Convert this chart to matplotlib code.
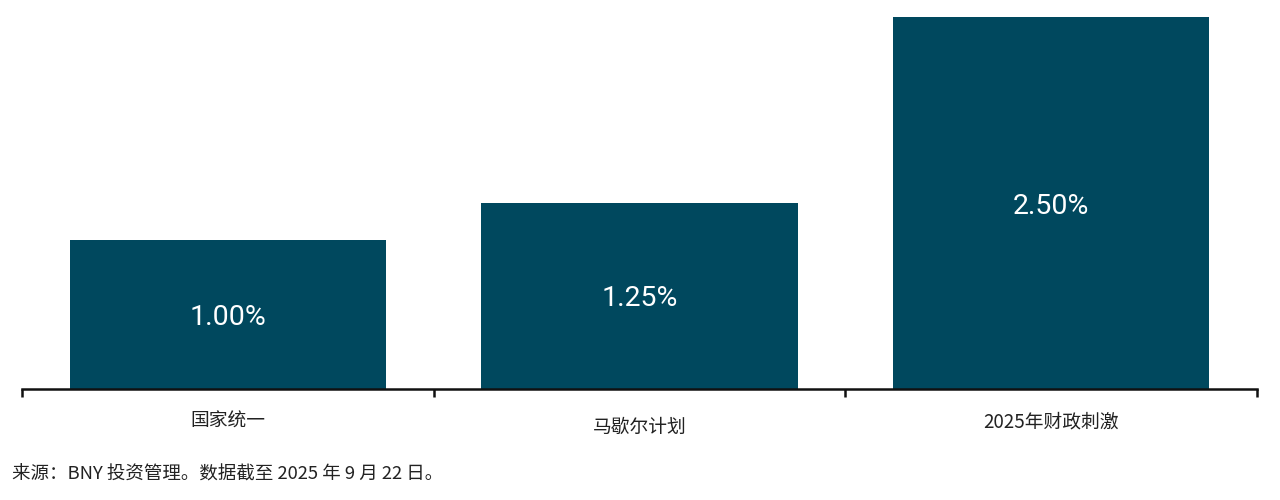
import matplotlib
matplotlib.use("Agg")
import matplotlib.pyplot as plt
import matplotlib.transforms as mtransforms

# data
categories = ['国家统一', '马歇尔计划', '2025年财政刺激']
values = [1.00, 1.25, 2.50]
value_labels = ['1.00%', '1.25%', '2.50%']
source_note = '来源：BNY 投资管理。数据截至 2025 年 9 月 22 日。'

bar_color = '#00485e'
cjk = ['Noto Sans CJK SC', 'DejaVu Sans']

fig = plt.figure(figsize=(12.8, 5), dpi=100)
ax = fig.add_axes([22 / 1280, 1 - 389 / 500, (1257 - 22) / 1280, (389 - 17) / 500])

x = list(range(len(categories)))
bars = ax.bar(x, values, width=0.768, color=bar_color, zorder=2)

# value labels centred inside each bar (nudged down a few px to match)
nudge = mtransforms.offset_copy(ax.transData, fig=fig, x=0, y=-3, units='dots')
for rect, lab in zip(bars, value_labels):
    ax.text(rect.get_x() + rect.get_width() / 2, rect.get_height() / 2, lab,
            ha='center', va='center', color='white', fontsize=20.5,
            family=['Roboto', 'DejaVu Sans'], transform=nudge)

ax.set_xlim(-0.5, len(categories) - 0.5)
ax.set_ylim(0, max(values))

for side in ['top', 'right', 'left']:
    ax.spines[side].set_visible(False)
ax.spines['bottom'].set_linewidth(1.8)
ax.spines['bottom'].set_color('#111111')
ax.set_yticks([])

# ticks sit on category boundaries, labels placed by hand
ax.set_xticks([i - 0.5 for i in range(len(categories) + 1)])
ax.set_xticklabels([])
ax.tick_params(axis='x', direction='out', length=6, width=1.8, color='#111111')

trans = mtransforms.blended_transform_factory(ax.transData, fig.transFigure)
label_y = [1 - 421 / 500, 1 - 427 / 500, 1 - 422 / 500]
for xi, cat, yy in zip(x, categories, label_y):
    ax.text(xi, yy, cat, transform=trans, ha='center', va='center',
            fontsize=13.5, family=cjk, color='#222222')

fig.text(12 / 1280, 1 - 475 / 500, source_note, ha='left', va='center',
         fontsize=13.3, family=cjk, color='#222222')

fig.savefig('out.png', dpi=100)
